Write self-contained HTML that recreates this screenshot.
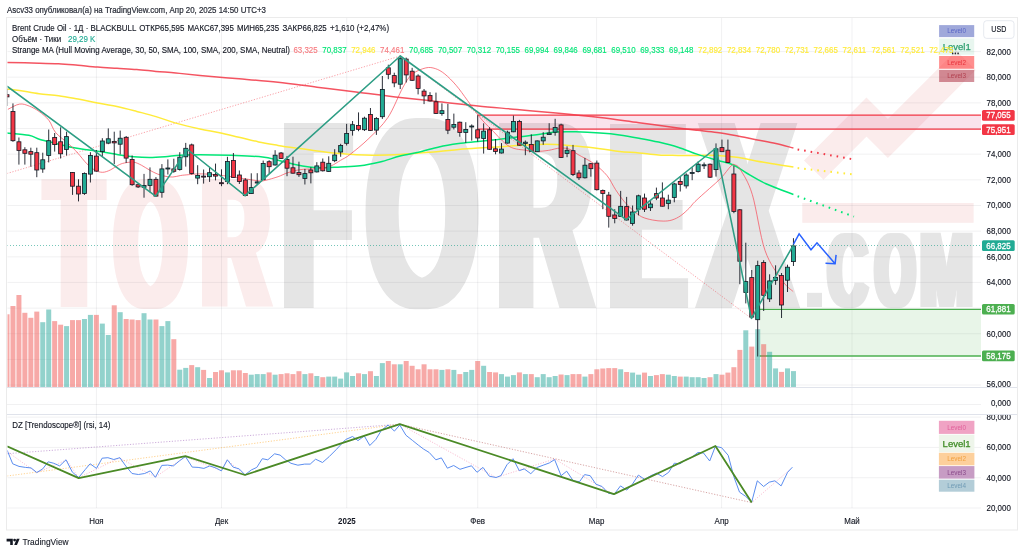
<!DOCTYPE html><html><head><meta charset="utf-8"><style>html,body{margin:0;padding:0;background:#fff;overflow:hidden}svg{display:block}svg{font-family:"Liberation Sans","DejaVu Sans",sans-serif}</style></head><body>
<svg width="1024" height="554" viewBox="0 0 1024 554">
<defs><clipPath id="cm"><rect x="7.5" y="18" width="973.5" height="369"/></clipPath><clipPath id="cd"><rect x="7.5" y="415" width="973.5" height="95"/></clipPath><clipPath id="ca1"><rect x="981" y="18" width="36" height="370"/></clipPath><clipPath id="ca3"><rect x="981" y="415" width="36" height="100"/></clipPath></defs>
<rect width="1024" height="554" fill="#fff"/>
<text transform="translate(7.00,12.50) scale(0.9,1)" font-size="8.8" fill="#2a2e39" stroke="#2a2e39" stroke-width="0.22">Ascv33 опубликовал(а) на TradingView.com, Апр 20, 2025 14:50 UTC+3</text>
<g clip-path="url(#cm)">
<polyline points="813.75,170.15 866.5,117 887.9,138.4 966,60.3" fill="none" stroke="#fbecec" stroke-width="27.6" stroke-linejoin="miter" stroke-miterlimit="10"/>
<rect x="802.3" y="203" width="171.3" height="19.8" fill="#fbecec"/>
<g filter="url(#dl0)"><text transform="translate(47.55,307.00) scale(0.8673,1.8605)" font-family="Liberation Sans" font-weight="bold" font-size="100" fill="#fbecec">T</text></g>
<g filter="url(#dl1)"><text transform="translate(115.28,307.35) scale(0.9078,1.8388)" font-family="Liberation Sans" font-weight="bold" font-size="100" fill="#fbecec">O</text></g>
<g filter="url(#dl2)"><text transform="translate(201.76,307.00) scale(0.9321,1.8605)" font-family="Liberation Sans" font-weight="bold" font-size="100" fill="#fbecec">R</text></g>
<g filter="url(#dl3)"><text transform="translate(283.72,308.00) scale(1.0870,2.6890)" font-family="Liberation Sans" font-weight="bold" font-size="100" fill="#e5e5e5">F</text></g>
<g filter="url(#dl4)"><text transform="translate(365.53,306.57) scale(1.4553,2.7016)" font-family="Liberation Sans" font-weight="bold" font-size="100" fill="#e5e5e5">O</text></g>
<g filter="url(#dl5)"><text transform="translate(498.43,308.00) scale(1.2796,2.6890)" font-family="Liberation Sans" font-weight="bold" font-size="100" fill="#e5e5e5">R</text></g>
<g filter="url(#dl6)"><text transform="translate(610.58,308.00) scale(1.1071,2.6744)" font-family="Liberation Sans" font-weight="bold" font-size="100" fill="#e5e5e5">E</text></g>
<g filter="url(#dl7)"><text transform="translate(701.76,308.00) scale(1.3735,2.6890)" font-family="Liberation Sans" font-weight="bold" font-size="100" fill="#e5e5e5">X</text></g>
<text transform="translate(799.81,307.00) scale(1.0643,0.9396)" font-family="Liberation Sans" font-weight="bold" font-size="100" fill="#e5e5e5">.</text>
<g filter="url(#dl8)"><text transform="translate(828.30,307.05) scale(0.5360,1.0608)" font-family="Liberation Sans" font-weight="bold" font-size="100" fill="#e5e5e5">C</text></g>
<g filter="url(#dl9)"><text transform="translate(875.43,307.05) scale(0.5043,1.0608)" font-family="Liberation Sans" font-weight="bold" font-size="100" fill="#e5e5e5">O</text></g>
<g filter="url(#dl10)"><text transform="translate(920.28,307.00) scale(0.6304,1.0756)" font-family="Liberation Sans" font-weight="bold" font-size="100" fill="#e5e5e5">M</text></g>
<defs><filter id="dl0" x="-40%" y="-20%" width="180%" height="140%" color-interpolation-filters="sRGB"><feMorphology operator="dilate" radius="6.50 0.00"/></filter><filter id="dl1" x="-40%" y="-20%" width="180%" height="140%" color-interpolation-filters="sRGB"><feMorphology operator="dilate" radius="6.00 0.00"/></filter><filter id="dl2" x="-40%" y="-20%" width="180%" height="140%" color-interpolation-filters="sRGB"><feMorphology operator="dilate" radius="6.00 0.00"/></filter><filter id="dl3" x="-40%" y="-20%" width="180%" height="140%" color-interpolation-filters="sRGB"><feMorphology operator="dilate" radius="7.00 0.00"/></filter><filter id="dl4" x="-40%" y="-20%" width="180%" height="140%" color-interpolation-filters="sRGB"><feMorphology operator="dilate" radius="5.50 0.00"/></filter><filter id="dl5" x="-40%" y="-20%" width="180%" height="140%" color-interpolation-filters="sRGB"><feMorphology operator="dilate" radius="8.00 0.00"/></filter><filter id="dl6" x="-40%" y="-20%" width="180%" height="140%" color-interpolation-filters="sRGB"><feMorphology operator="dilate" radius="8.00 0.00"/></filter><filter id="dl7" x="-40%" y="-20%" width="180%" height="140%" color-interpolation-filters="sRGB"><feMorphology operator="dilate" radius="8.00 0.00"/></filter><filter id="dl8" x="-40%" y="-20%" width="180%" height="140%" color-interpolation-filters="sRGB"><feMorphology operator="dilate" radius="3.50 0.00"/></filter><filter id="dl9" x="-40%" y="-20%" width="180%" height="140%" color-interpolation-filters="sRGB"><feMorphology operator="dilate" radius="3.50 0.00"/></filter><filter id="dl10" x="-40%" y="-20%" width="180%" height="140%" color-interpolation-filters="sRGB"><feMorphology operator="dilate" radius="3.50 0.00"/></filter></defs>
<line x1="7" x2="981" y1="385.0" y2="385.0" stroke="rgba(42,46,57,0.065)" stroke-width="1"/>
<line x1="7" x2="981" y1="359.4" y2="359.4" stroke="rgba(42,46,57,0.065)" stroke-width="1"/>
<line x1="7" x2="981" y1="333.7" y2="333.7" stroke="rgba(42,46,57,0.065)" stroke-width="1"/>
<line x1="7" x2="981" y1="308.1" y2="308.1" stroke="rgba(42,46,57,0.065)" stroke-width="1"/>
<line x1="7" x2="981" y1="282.4" y2="282.4" stroke="rgba(42,46,57,0.065)" stroke-width="1"/>
<line x1="7" x2="981" y1="256.8" y2="256.8" stroke="rgba(42,46,57,0.065)" stroke-width="1"/>
<line x1="7" x2="981" y1="231.1" y2="231.1" stroke="rgba(42,46,57,0.065)" stroke-width="1"/>
<line x1="7" x2="981" y1="205.5" y2="205.5" stroke="rgba(42,46,57,0.065)" stroke-width="1"/>
<line x1="7" x2="981" y1="179.8" y2="179.8" stroke="rgba(42,46,57,0.065)" stroke-width="1"/>
<line x1="7" x2="981" y1="154.2" y2="154.2" stroke="rgba(42,46,57,0.065)" stroke-width="1"/>
<line x1="7" x2="981" y1="128.5" y2="128.5" stroke="rgba(42,46,57,0.065)" stroke-width="1"/>
<line x1="7" x2="981" y1="102.9" y2="102.9" stroke="rgba(42,46,57,0.065)" stroke-width="1"/>
<line x1="7" x2="981" y1="77.2" y2="77.2" stroke="rgba(42,46,57,0.065)" stroke-width="1"/>
<line x1="7" x2="981" y1="51.6" y2="51.6" stroke="rgba(42,46,57,0.065)" stroke-width="1"/>
<line x1="96.4" x2="96.4" y1="18" y2="387" stroke="rgba(42,46,57,0.065)" stroke-width="1"/>
<line x1="221.5" x2="221.5" y1="18" y2="387" stroke="rgba(42,46,57,0.065)" stroke-width="1"/>
<line x1="346.7" x2="346.7" y1="18" y2="387" stroke="rgba(42,46,57,0.065)" stroke-width="1"/>
<line x1="477.7" x2="477.7" y1="18" y2="387" stroke="rgba(42,46,57,0.065)" stroke-width="1"/>
<line x1="596.6" x2="596.6" y1="18" y2="387" stroke="rgba(42,46,57,0.065)" stroke-width="1"/>
<line x1="721.6" x2="721.6" y1="18" y2="387" stroke="rgba(42,46,57,0.065)" stroke-width="1"/>
<line x1="852" x2="852" y1="18" y2="387" stroke="rgba(42,46,57,0.065)" stroke-width="1"/>
<rect x="477.7" y="115.2" width="504" height="13.9" fill="rgb(214,40,110)" fill-opacity="0.13"/>
<line x1="477.7" x2="981" y1="115.2" y2="115.2" stroke="#f23645" stroke-width="1.3"/>
<line x1="477.7" x2="981" y1="129.1" y2="129.1" stroke="#f23645" stroke-width="1.3"/>
<rect x="759.6" y="309.3" width="222" height="46.7" fill="rgb(76,175,80)" fill-opacity="0.13"/>
<line x1="759.6" x2="981" y1="309.3" y2="309.3" stroke="#4caf50" stroke-width="1.3"/>
<line x1="759.6" x2="981" y1="356" y2="356" stroke="#4caf50" stroke-width="1.3"/>
<rect x="4.50" y="314.3" width="5" height="72.7" fill="rgba(239,83,80,0.5)"/>
<rect x="10.46" y="306.0" width="5" height="81.0" fill="rgba(239,83,80,0.5)"/>
<rect x="16.42" y="295.0" width="5" height="92.0" fill="rgba(239,83,80,0.5)"/>
<rect x="22.37" y="312.8" width="5" height="74.2" fill="rgba(239,83,80,0.5)"/>
<rect x="28.33" y="317.8" width="5" height="69.2" fill="rgba(239,83,80,0.5)"/>
<rect x="34.29" y="311.6" width="5" height="75.4" fill="rgba(239,83,80,0.5)"/>
<rect x="40.25" y="322.2" width="5" height="64.8" fill="rgba(38,166,154,0.5)"/>
<rect x="46.21" y="309.5" width="5" height="77.5" fill="rgba(38,166,154,0.5)"/>
<rect x="52.16" y="321.1" width="5" height="65.9" fill="rgba(239,83,80,0.5)"/>
<rect x="58.12" y="324.7" width="5" height="62.3" fill="rgba(239,83,80,0.5)"/>
<rect x="64.08" y="326.1" width="5" height="60.9" fill="rgba(38,166,154,0.5)"/>
<rect x="70.04" y="320.1" width="5" height="66.9" fill="rgba(239,83,80,0.5)"/>
<rect x="76.00" y="320.1" width="5" height="66.9" fill="rgba(239,83,80,0.5)"/>
<rect x="81.95" y="319.0" width="5" height="68.0" fill="rgba(38,166,154,0.5)"/>
<rect x="87.91" y="314.9" width="5" height="72.1" fill="rgba(38,166,154,0.5)"/>
<rect x="93.87" y="314.9" width="5" height="72.1" fill="rgba(239,83,80,0.5)"/>
<rect x="99.83" y="323.6" width="5" height="63.4" fill="rgba(38,166,154,0.5)"/>
<rect x="105.79" y="335.0" width="5" height="52.0" fill="rgba(38,166,154,0.5)"/>
<rect x="111.74" y="305.3" width="5" height="81.7" fill="rgba(239,83,80,0.5)"/>
<rect x="117.70" y="312.2" width="5" height="74.8" fill="rgba(38,166,154,0.5)"/>
<rect x="123.66" y="319.0" width="5" height="68.0" fill="rgba(239,83,80,0.5)"/>
<rect x="129.62" y="319.5" width="5" height="67.5" fill="rgba(239,83,80,0.5)"/>
<rect x="135.58" y="320.1" width="5" height="66.9" fill="rgba(239,83,80,0.5)"/>
<rect x="141.53" y="313.2" width="5" height="73.8" fill="rgba(38,166,154,0.5)"/>
<rect x="147.49" y="319.5" width="5" height="67.5" fill="rgba(38,166,154,0.5)"/>
<rect x="153.45" y="319.5" width="5" height="67.5" fill="rgba(239,83,80,0.5)"/>
<rect x="159.41" y="326.1" width="5" height="60.9" fill="rgba(38,166,154,0.5)"/>
<rect x="165.37" y="321.1" width="5" height="65.9" fill="rgba(38,166,154,0.5)"/>
<rect x="171.32" y="339.2" width="5" height="47.8" fill="rgba(239,83,80,0.5)"/>
<rect x="177.28" y="369.7" width="5" height="17.3" fill="rgba(38,166,154,0.5)"/>
<rect x="183.24" y="367.9" width="5" height="19.1" fill="rgba(38,166,154,0.5)"/>
<rect x="189.20" y="365.1" width="5" height="21.9" fill="rgba(239,83,80,0.5)"/>
<rect x="195.16" y="367.2" width="5" height="19.8" fill="rgba(38,166,154,0.5)"/>
<rect x="201.11" y="369.9" width="5" height="17.1" fill="rgba(239,83,80,0.5)"/>
<rect x="207.07" y="378.0" width="5" height="9.0" fill="rgba(38,166,154,0.5)"/>
<rect x="213.03" y="372.0" width="5" height="15.0" fill="rgba(239,83,80,0.5)"/>
<rect x="218.99" y="370.3" width="5" height="16.7" fill="rgba(239,83,80,0.5)"/>
<rect x="224.95" y="372.4" width="5" height="14.6" fill="rgba(38,166,154,0.5)"/>
<rect x="230.90" y="370.3" width="5" height="16.7" fill="rgba(239,83,80,0.5)"/>
<rect x="236.86" y="370.3" width="5" height="16.7" fill="rgba(239,83,80,0.5)"/>
<rect x="242.82" y="373.0" width="5" height="14.0" fill="rgba(239,83,80,0.5)"/>
<rect x="248.78" y="374.7" width="5" height="12.3" fill="rgba(38,166,154,0.5)"/>
<rect x="254.74" y="374.1" width="5" height="12.9" fill="rgba(38,166,154,0.5)"/>
<rect x="260.69" y="374.1" width="5" height="12.9" fill="rgba(38,166,154,0.5)"/>
<rect x="266.65" y="372.4" width="5" height="14.6" fill="rgba(239,83,80,0.5)"/>
<rect x="272.61" y="374.7" width="5" height="12.3" fill="rgba(38,166,154,0.5)"/>
<rect x="278.57" y="374.1" width="5" height="12.9" fill="rgba(239,83,80,0.5)"/>
<rect x="284.53" y="373.3" width="5" height="13.7" fill="rgba(239,83,80,0.5)"/>
<rect x="290.48" y="374.1" width="5" height="12.9" fill="rgba(239,83,80,0.5)"/>
<rect x="296.44" y="371.2" width="5" height="15.8" fill="rgba(239,83,80,0.5)"/>
<rect x="302.40" y="374.1" width="5" height="12.9" fill="rgba(38,166,154,0.5)"/>
<rect x="308.36" y="373.3" width="5" height="13.7" fill="rgba(239,83,80,0.5)"/>
<rect x="314.32" y="376.0" width="5" height="11.0" fill="rgba(38,166,154,0.5)"/>
<rect x="320.27" y="377.2" width="5" height="9.8" fill="rgba(239,83,80,0.5)"/>
<rect x="326.23" y="376.6" width="5" height="10.4" fill="rgba(38,166,154,0.5)"/>
<rect x="332.19" y="376.6" width="5" height="10.4" fill="rgba(38,166,154,0.5)"/>
<rect x="338.15" y="378.6" width="5" height="8.4" fill="rgba(38,166,154,0.5)"/>
<rect x="344.11" y="372.4" width="5" height="14.6" fill="rgba(38,166,154,0.5)"/>
<rect x="350.06" y="376.0" width="5" height="11.0" fill="rgba(38,166,154,0.5)"/>
<rect x="356.02" y="373.3" width="5" height="13.7" fill="rgba(239,83,80,0.5)"/>
<rect x="361.98" y="374.1" width="5" height="12.9" fill="rgba(38,166,154,0.5)"/>
<rect x="367.94" y="371.2" width="5" height="15.8" fill="rgba(239,83,80,0.5)"/>
<rect x="373.90" y="376.0" width="5" height="11.0" fill="rgba(38,166,154,0.5)"/>
<rect x="379.85" y="363.1" width="5" height="23.9" fill="rgba(38,166,154,0.5)"/>
<rect x="385.81" y="361.0" width="5" height="26.0" fill="rgba(239,83,80,0.5)"/>
<rect x="391.77" y="364.3" width="5" height="22.7" fill="rgba(239,83,80,0.5)"/>
<rect x="397.73" y="364.3" width="5" height="22.7" fill="rgba(38,166,154,0.5)"/>
<rect x="403.69" y="361.0" width="5" height="26.0" fill="rgba(239,83,80,0.5)"/>
<rect x="409.64" y="365.8" width="5" height="21.2" fill="rgba(239,83,80,0.5)"/>
<rect x="415.60" y="369.3" width="5" height="17.7" fill="rgba(239,83,80,0.5)"/>
<rect x="421.56" y="364.3" width="5" height="22.7" fill="rgba(239,83,80,0.5)"/>
<rect x="427.52" y="369.3" width="5" height="17.7" fill="rgba(239,83,80,0.5)"/>
<rect x="433.48" y="369.3" width="5" height="17.7" fill="rgba(239,83,80,0.5)"/>
<rect x="439.43" y="369.9" width="5" height="17.1" fill="rgba(38,166,154,0.5)"/>
<rect x="445.39" y="369.3" width="5" height="17.7" fill="rgba(239,83,80,0.5)"/>
<rect x="451.35" y="369.9" width="5" height="17.1" fill="rgba(38,166,154,0.5)"/>
<rect x="457.31" y="374.1" width="5" height="12.9" fill="rgba(239,83,80,0.5)"/>
<rect x="463.27" y="372.0" width="5" height="15.0" fill="rgba(38,166,154,0.5)"/>
<rect x="469.22" y="369.9" width="5" height="17.1" fill="rgba(38,166,154,0.5)"/>
<rect x="475.18" y="361.0" width="5" height="26.0" fill="rgba(239,83,80,0.5)"/>
<rect x="481.14" y="365.8" width="5" height="21.2" fill="rgba(38,166,154,0.5)"/>
<rect x="487.10" y="372.0" width="5" height="15.0" fill="rgba(239,83,80,0.5)"/>
<rect x="493.06" y="372.4" width="5" height="14.6" fill="rgba(239,83,80,0.5)"/>
<rect x="499.01" y="374.1" width="5" height="12.9" fill="rgba(38,166,154,0.5)"/>
<rect x="504.97" y="376.6" width="5" height="10.4" fill="rgba(38,166,154,0.5)"/>
<rect x="510.93" y="375.1" width="5" height="11.9" fill="rgba(38,166,154,0.5)"/>
<rect x="516.89" y="372.4" width="5" height="14.6" fill="rgba(239,83,80,0.5)"/>
<rect x="522.85" y="374.1" width="5" height="12.9" fill="rgba(38,166,154,0.5)"/>
<rect x="528.80" y="374.1" width="5" height="12.9" fill="rgba(239,83,80,0.5)"/>
<rect x="534.76" y="377.2" width="5" height="9.8" fill="rgba(38,166,154,0.5)"/>
<rect x="540.72" y="374.1" width="5" height="12.9" fill="rgba(38,166,154,0.5)"/>
<rect x="546.68" y="377.2" width="5" height="9.8" fill="rgba(38,166,154,0.5)"/>
<rect x="552.64" y="376.0" width="5" height="11.0" fill="rgba(38,166,154,0.5)"/>
<rect x="558.59" y="374.5" width="5" height="12.5" fill="rgba(239,83,80,0.5)"/>
<rect x="564.55" y="375.1" width="5" height="11.9" fill="rgba(38,166,154,0.5)"/>
<rect x="570.51" y="374.1" width="5" height="12.9" fill="rgba(239,83,80,0.5)"/>
<rect x="576.47" y="374.1" width="5" height="12.9" fill="rgba(239,83,80,0.5)"/>
<rect x="582.43" y="376.6" width="5" height="10.4" fill="rgba(38,166,154,0.5)"/>
<rect x="588.38" y="374.1" width="5" height="12.9" fill="rgba(239,83,80,0.5)"/>
<rect x="594.34" y="369.3" width="5" height="17.7" fill="rgba(239,83,80,0.5)"/>
<rect x="600.30" y="368.5" width="5" height="18.5" fill="rgba(239,83,80,0.5)"/>
<rect x="606.26" y="368.1" width="5" height="18.9" fill="rgba(239,83,80,0.5)"/>
<rect x="612.22" y="368.1" width="5" height="18.9" fill="rgba(239,83,80,0.5)"/>
<rect x="618.17" y="369.3" width="5" height="17.7" fill="rgba(38,166,154,0.5)"/>
<rect x="624.13" y="372.0" width="5" height="15.0" fill="rgba(239,83,80,0.5)"/>
<rect x="630.09" y="372.6" width="5" height="14.4" fill="rgba(38,166,154,0.5)"/>
<rect x="636.05" y="374.7" width="5" height="12.3" fill="rgba(38,166,154,0.5)"/>
<rect x="642.01" y="372.6" width="5" height="14.4" fill="rgba(239,83,80,0.5)"/>
<rect x="647.96" y="376.0" width="5" height="11.0" fill="rgba(38,166,154,0.5)"/>
<rect x="653.92" y="375.1" width="5" height="11.9" fill="rgba(239,83,80,0.5)"/>
<rect x="659.88" y="374.1" width="5" height="12.9" fill="rgba(239,83,80,0.5)"/>
<rect x="665.84" y="374.7" width="5" height="12.3" fill="rgba(38,166,154,0.5)"/>
<rect x="671.80" y="376.0" width="5" height="11.0" fill="rgba(38,166,154,0.5)"/>
<rect x="677.75" y="376.6" width="5" height="10.4" fill="rgba(239,83,80,0.5)"/>
<rect x="683.71" y="376.6" width="5" height="10.4" fill="rgba(38,166,154,0.5)"/>
<rect x="689.67" y="377.2" width="5" height="9.8" fill="rgba(38,166,154,0.5)"/>
<rect x="695.63" y="377.2" width="5" height="9.8" fill="rgba(38,166,154,0.5)"/>
<rect x="701.59" y="378.0" width="5" height="9.0" fill="rgba(38,166,154,0.5)"/>
<rect x="707.54" y="377.2" width="5" height="9.8" fill="rgba(239,83,80,0.5)"/>
<rect x="713.50" y="374.1" width="5" height="12.9" fill="rgba(38,166,154,0.5)"/>
<rect x="719.46" y="374.7" width="5" height="12.3" fill="rgba(239,83,80,0.5)"/>
<rect x="725.42" y="372.6" width="5" height="14.4" fill="rgba(239,83,80,0.5)"/>
<rect x="731.38" y="367.2" width="5" height="19.8" fill="rgba(239,83,80,0.5)"/>
<rect x="737.33" y="349.9" width="5" height="37.1" fill="rgba(239,83,80,0.5)"/>
<rect x="743.29" y="330.3" width="5" height="56.7" fill="rgba(38,166,154,0.5)"/>
<rect x="749.25" y="346.6" width="5" height="40.4" fill="rgba(239,83,80,0.5)"/>
<rect x="755.21" y="329.2" width="5" height="57.8" fill="rgba(38,166,154,0.5)"/>
<rect x="761.17" y="344.2" width="5" height="42.8" fill="rgba(239,83,80,0.5)"/>
<rect x="767.12" y="351.8" width="5" height="35.2" fill="rgba(38,166,154,0.5)"/>
<rect x="773.08" y="368.4" width="5" height="18.6" fill="rgba(38,166,154,0.5)"/>
<rect x="779.04" y="371.9" width="5" height="15.1" fill="rgba(239,83,80,0.5)"/>
<rect x="785.00" y="368.4" width="5" height="18.6" fill="rgba(38,166,154,0.5)"/>
<rect x="790.96" y="371.1" width="5" height="15.9" fill="rgba(38,166,154,0.5)"/>
<line x1="7" x2="981" y1="245.5" y2="245.5" stroke="#089981" stroke-width="1" stroke-dasharray="1,2" opacity="0.55"/>
<polyline points="7,173.5 400.3,56 751.4,318.4" fill="none" stroke="#f23645" stroke-opacity="0.6" stroke-width="0.8" stroke-dasharray="1.2,1.6"/>
<path d="M7.0,62.4 C12.3,62.5 30.4,63.0 39.0,63.2 C47.6,63.4 52.1,63.5 58.6,63.8 C65.1,64.1 71.5,64.7 78.0,65.2 C84.5,65.8 91.2,66.6 97.7,67.1 C104.2,67.6 110.5,67.9 117.0,68.3 C123.5,68.7 130.2,69.0 136.7,69.5 C143.2,70.0 149.5,70.8 156.0,71.4 C162.5,72.0 168.5,72.3 175.8,73.0 C183.1,73.7 189.5,74.4 200.0,75.4 C210.5,76.4 226.0,77.7 239.0,78.8 C252.0,79.9 265.0,80.9 278.0,82.3 C291.0,83.7 304.0,85.6 317.0,87.2 C330.0,88.8 342.2,90.2 356.0,91.9 C369.8,93.6 386.2,95.9 400.0,97.5 C413.8,99.1 426.0,100.3 439.0,101.7 C452.0,103.1 465.0,104.7 478.0,106.0 C491.0,107.3 504.0,108.3 517.0,109.5 C530.0,110.7 542.2,111.7 556.0,113.0 C569.8,114.3 586.2,115.9 600.0,117.5 C613.8,119.1 626.0,121.0 639.0,122.7 C652.0,124.5 668.2,126.7 678.0,128.0 C687.8,129.3 691.2,129.6 697.7,130.3 C704.2,131.0 710.5,131.5 717.0,132.4 C723.5,133.3 730.2,134.5 736.7,135.7 C743.2,136.9 749.5,138.4 756.0,139.7 C762.5,141.0 769.6,142.2 775.8,143.6 C782.0,145.0 790.5,147.3 793.4,148.0" fill="none" stroke="#f23645" stroke-opacity="0.85" stroke-width="1.5"/>
<path d="M7.0,88.9 C9.1,89.2 14.2,89.7 19.5,90.5 C24.8,91.3 32.5,92.9 39.0,93.8 C45.5,94.7 52.1,94.8 58.6,95.7 C65.1,96.6 71.5,97.9 78.0,99.1 C84.5,100.3 91.2,101.8 97.7,103.0 C104.2,104.2 110.5,105.1 117.0,106.5 C123.5,107.9 130.2,109.7 136.7,111.4 C143.2,113.1 149.5,114.6 156.0,116.6 C162.5,118.5 168.5,121.0 175.8,123.1 C183.1,125.1 192.7,127.3 200.0,128.9 C207.3,130.5 213.0,131.3 219.5,132.7 C226.0,134.1 232.5,135.7 239.0,137.2 C245.5,138.7 252.1,140.5 258.6,141.9 C265.1,143.3 271.5,144.3 278.0,145.4 C284.5,146.5 291.2,147.4 297.7,148.3 C304.2,149.2 310.7,150.1 317.2,150.9 C323.7,151.7 330.2,152.5 336.7,153.2 C343.2,153.8 349.5,154.5 356.0,154.8 C362.5,155.1 368.5,155.3 375.8,155.2 C383.1,155.1 392.7,154.8 400.0,154.4 C407.3,154.0 413.0,153.4 419.5,152.9 C426.0,152.4 432.5,152.0 439.0,151.4 C445.5,150.8 452.1,150.0 458.6,149.4 C465.1,148.8 471.5,148.4 478.0,148.0 C484.5,147.6 491.2,147.3 497.7,146.9 C504.2,146.5 510.7,145.9 517.2,145.5 C523.7,145.1 530.2,144.7 536.7,144.5 C543.2,144.3 549.5,144.2 556.0,144.5 C562.5,144.8 568.5,145.4 575.8,146.1 C583.1,146.8 592.7,147.8 600.0,148.7 C607.3,149.6 613.0,150.8 619.5,151.5 C626.0,152.2 632.5,152.4 639.0,153.0 C645.5,153.6 652.1,154.6 658.6,155.0 C665.1,155.4 671.5,155.3 678.0,155.4 C684.5,155.5 691.2,155.4 697.7,155.4 C704.2,155.4 710.7,155.2 717.2,155.5 C723.7,155.8 730.2,156.4 736.7,157.3 C743.2,158.2 749.5,159.8 756.0,160.9 C762.5,162.1 769.6,163.2 775.8,164.2 C782.0,165.2 790.5,166.6 793.4,167.1" fill="none" stroke="#ffeb3b" stroke-width="1.5"/>
<path d="M7.0,133.0 C10.7,133.4 23.4,134.2 28.9,135.3 C34.4,136.4 35.5,138.2 40.0,139.5 C44.5,140.8 50.4,142.1 55.6,143.4 C60.8,144.7 66.0,146.2 71.2,147.3 C76.5,148.4 81.7,148.9 86.9,149.7 C92.1,150.5 97.3,151.2 102.5,152.0 C107.7,152.8 112.9,153.9 118.1,154.7 C123.3,155.5 128.5,156.2 133.8,156.7 C139.0,157.2 144.2,157.5 149.4,157.5 C154.6,157.5 159.8,157.1 165.0,156.7 C170.2,156.3 174.8,155.5 180.6,155.2 C186.4,154.9 191.6,154.8 200.0,154.8 C208.4,154.8 220.8,155.0 231.2,155.3 C241.7,155.7 254.7,156.1 262.5,156.9 C270.3,157.7 272.9,159.1 278.1,160.3 C283.3,161.5 288.5,163.1 293.8,164.2 C299.0,165.3 304.2,166.3 309.4,166.9 C314.6,167.5 319.8,167.8 325.0,167.8 C330.2,167.8 334.8,167.2 340.6,166.9 C346.4,166.6 353.4,166.6 360.0,165.8 C366.6,165.0 373.3,163.6 380.0,162.0 C386.7,160.4 393.4,157.8 400.0,156.1 C406.6,154.4 413.0,153.5 419.5,152.0 C426.0,150.5 432.5,148.3 439.0,146.9 C445.5,145.5 452.1,144.5 458.6,143.6 C465.1,142.7 471.5,142.3 478.0,141.6 C484.5,140.9 491.2,140.3 497.7,139.6 C504.2,138.8 510.7,137.9 517.2,137.1 C523.7,136.3 530.2,135.7 536.7,134.8 C543.2,134.0 549.5,132.5 556.0,132.0 C562.5,131.5 568.5,131.6 575.8,131.8 C583.1,132.0 592.7,132.5 600.0,133.0 C607.3,133.5 613.0,134.0 619.5,134.9 C626.0,135.8 632.5,137.0 639.0,138.2 C645.5,139.4 652.1,140.6 658.6,142.1 C665.1,143.6 671.5,145.1 678.0,147.2 C684.5,149.2 691.2,152.2 697.7,154.4 C704.2,156.6 711.4,158.6 717.2,160.3 C723.1,162.0 727.9,162.7 732.8,164.8 C737.7,166.9 741.0,169.8 746.5,173.0 C752.0,176.2 758.2,180.1 766.0,183.7 C773.8,187.3 788.8,192.7 793.4,194.5" fill="none" stroke="#00e676" stroke-width="1.5"/>
<path d="M7.8,109.4 C9.8,108.5 15.9,104.6 19.5,104.1 C23.1,103.5 26.1,104.9 29.3,106.1 C32.5,107.3 35.8,109.1 39.0,111.4 C42.2,113.8 46.0,116.7 48.8,120.2 C51.6,123.7 52.4,128.6 55.6,132.5 C58.8,136.4 64.4,140.0 68.1,143.4 C71.8,146.8 74.4,149.4 77.5,152.8 C80.6,156.2 84.0,160.9 86.9,163.8 C89.8,166.6 92.1,168.6 94.7,170.0 C97.3,171.4 99.9,172.3 102.5,172.3 C105.1,172.3 107.7,171.2 110.3,170.0 C112.9,168.8 115.8,166.5 118.1,165.3 C120.4,164.1 121.8,163.5 124.4,163.0 C127.0,162.5 130.9,161.8 133.8,162.2 C136.6,162.6 139.0,164.0 141.6,165.3 C144.2,166.6 146.8,168.6 149.4,170.0 C152.0,171.4 154.6,172.9 157.2,173.9 C159.8,174.9 162.4,175.7 165.0,176.2 C167.6,176.8 170.2,177.1 172.8,177.0 C175.4,176.9 178.0,175.9 180.6,175.5 C183.2,175.1 185.2,175.0 188.4,174.7 C191.6,174.4 195.5,173.9 200.0,173.9 C204.5,173.9 210.4,174.2 215.6,174.7 C220.8,175.2 226.0,176.0 231.2,176.7 C236.5,177.4 242.2,178.4 246.9,179.1 C251.6,179.8 256.3,180.7 259.4,180.9 C262.5,181.1 262.5,181.0 265.6,180.3 C268.7,179.6 274.5,177.9 278.1,176.7 C281.8,175.4 283.9,174.0 287.5,172.8 C291.1,171.6 295.8,170.3 300.0,169.7 C304.2,169.0 308.9,169.2 312.5,168.9 C316.1,168.6 318.8,168.6 321.9,168.1 C325.0,167.6 328.1,167.1 331.2,165.8 C334.4,164.5 337.5,162.2 340.6,160.3 C343.7,158.4 345.3,158.2 350.0,154.5 C354.7,150.8 362.6,144.6 368.9,138.4 C375.2,132.2 382.2,126.0 387.9,117.5 C393.6,109.0 398.9,94.5 403.0,87.2 C407.1,80.0 408.7,77.2 412.5,74.0 C416.3,70.8 422.0,68.8 425.8,67.9 C429.6,67.0 432.1,67.6 435.3,68.6 C438.5,69.6 441.3,71.2 444.8,74.0 C448.3,76.8 452.3,80.9 456.1,85.3 C459.9,89.7 463.5,95.1 467.5,100.5 C471.5,105.9 475.9,112.6 480.0,117.5 C484.1,122.4 486.9,125.1 491.8,129.9 C496.7,134.7 503.5,143.1 509.4,146.5 C515.3,149.9 522.5,149.6 527.0,150.4 C531.5,151.2 533.1,151.4 536.7,151.4 C540.3,151.4 544.5,151.0 548.4,150.4 C552.3,149.8 556.6,148.2 560.2,148.0 C563.8,147.8 567.0,148.3 570.0,149.4 C573.0,150.5 574.0,152.1 578.0,154.5 C582.0,156.9 589.2,160.2 594.0,163.7 C598.8,167.2 603.4,171.3 607.0,175.6 C610.6,179.9 612.7,185.4 615.6,189.7 C618.5,194.0 621.4,198.2 624.3,201.6 C627.2,205.0 630.1,207.8 633.0,210.3 C635.9,212.8 638.5,215.2 641.7,216.8 C645.0,218.4 648.9,219.3 652.5,220.0 C656.1,220.7 660.0,221.1 663.3,221.1 C666.5,221.1 669.1,220.9 672.0,220.0 C674.9,219.1 677.8,217.7 680.7,215.7 C683.6,213.7 686.9,210.4 689.3,208.1 C691.7,205.8 691.6,204.8 695.0,201.6 C698.4,198.3 705.0,192.5 709.4,188.6 C713.8,184.7 717.5,181.7 721.1,177.9 C724.7,174.2 728.6,168.3 730.9,166.1 C733.2,163.9 733.2,164.2 734.8,164.8 C736.4,165.5 737.7,165.1 740.6,170.0 C743.5,174.9 748.2,181.1 752.3,194.5 C756.4,207.9 760.0,236.0 765.0,250.4 C770.0,264.8 777.7,273.8 782.4,280.7 C787.1,287.6 791.4,289.8 793.2,291.6" fill="none" stroke="#f7525f" stroke-opacity="0.75" stroke-width="1"/>
<polyline points="797.6,149.4 854.0,159.4" fill="none" stroke="#f23645" stroke-width="2" stroke-dasharray="1.6,5"/>
<polyline points="797.6,168.0 854.0,174.5" fill="none" stroke="#ffeb3b" stroke-width="2" stroke-dasharray="1.6,5"/>
<polyline points="797.6,196.2 854.0,216.6" fill="none" stroke="#00e676" stroke-width="2" stroke-dasharray="1.6,5"/>
<line x1="7.00" x2="7.00" y1="88.7" y2="106.0" stroke="#131722" stroke-width="0.9"/>
<rect x="5.00" y="94.7" width="4" height="2.2" fill="#f23645" stroke="#131722" stroke-width="0.8"/>
<line x1="12.96" x2="12.96" y1="103.4" y2="141.8" stroke="#131722" stroke-width="0.9"/>
<rect x="10.96" y="111.5" width="4" height="29.2" fill="#f23645" stroke="#131722" stroke-width="0.8"/>
<line x1="18.92" x2="18.92" y1="137.5" y2="164.6" stroke="#131722" stroke-width="0.9"/>
<rect x="16.92" y="141.8" width="4" height="8.7" fill="#f23645" stroke="#131722" stroke-width="0.8"/>
<line x1="24.87" x2="24.87" y1="147.2" y2="164.6" stroke="#131722" stroke-width="0.9"/>
<rect x="22.87" y="149.8" width="4" height="3.5" fill="#f23645" stroke="#131722" stroke-width="0.8"/>
<line x1="30.83" x2="30.83" y1="147.7" y2="166.8" stroke="#131722" stroke-width="0.9"/>
<rect x="28.83" y="151.6" width="4" height="2.6" fill="#f23645" stroke="#131722" stroke-width="0.8"/>
<line x1="36.79" x2="36.79" y1="147.7" y2="177.2" stroke="#131722" stroke-width="0.9"/>
<rect x="34.79" y="152.7" width="4" height="17.3" fill="#f23645" stroke="#131722" stroke-width="0.8"/>
<line x1="42.75" x2="42.75" y1="152.7" y2="172.8" stroke="#131722" stroke-width="0.9"/>
<rect x="40.75" y="159.8" width="4" height="9.2" fill="#22ab94" stroke="#131722" stroke-width="0.8"/>
<line x1="48.71" x2="48.71" y1="129.5" y2="162.4" stroke="#131722" stroke-width="0.9"/>
<rect x="46.71" y="140.7" width="4" height="14.8" fill="#22ab94" stroke="#131722" stroke-width="0.8"/>
<line x1="54.66" x2="54.66" y1="133.0" y2="151.6" stroke="#131722" stroke-width="0.9"/>
<rect x="52.66" y="137.5" width="4" height="7.1" fill="#f23645" stroke="#131722" stroke-width="0.8"/>
<line x1="60.62" x2="60.62" y1="127.3" y2="158.5" stroke="#131722" stroke-width="0.9"/>
<rect x="58.62" y="141.8" width="4" height="12.0" fill="#f23645" stroke="#131722" stroke-width="0.8"/>
<line x1="66.58" x2="66.58" y1="131.7" y2="155.5" stroke="#131722" stroke-width="0.9"/>
<rect x="64.58" y="136.6" width="4" height="12.8" fill="#22ab94" stroke="#131722" stroke-width="0.8"/>
<line x1="72.54" x2="72.54" y1="172.0" y2="194.9" stroke="#131722" stroke-width="0.9"/>
<rect x="70.54" y="172.4" width="4" height="13.8" fill="#f23645" stroke="#131722" stroke-width="0.8"/>
<line x1="78.50" x2="78.50" y1="179.3" y2="201.4" stroke="#131722" stroke-width="0.9"/>
<rect x="76.50" y="186.2" width="4" height="7.8" fill="#f23645" stroke="#131722" stroke-width="0.8"/>
<line x1="84.45" x2="84.45" y1="172.4" y2="194.9" stroke="#131722" stroke-width="0.9"/>
<rect x="82.45" y="173.4" width="4" height="20.2" fill="#22ab94" stroke="#131722" stroke-width="0.8"/>
<line x1="90.41" x2="90.41" y1="152.2" y2="182.5" stroke="#131722" stroke-width="0.9"/>
<rect x="88.41" y="155.5" width="4" height="18.6" fill="#22ab94" stroke="#131722" stroke-width="0.8"/>
<line x1="96.37" x2="96.37" y1="150.0" y2="171.7" stroke="#131722" stroke-width="0.9"/>
<rect x="94.37" y="156.1" width="4" height="15.0" fill="#f23645" stroke="#131722" stroke-width="0.8"/>
<line x1="102.33" x2="102.33" y1="138.2" y2="156.6" stroke="#131722" stroke-width="0.9"/>
<rect x="100.33" y="141.0" width="4" height="10.6" fill="#22ab94" stroke="#131722" stroke-width="0.8"/>
<line x1="108.29" x2="108.29" y1="128.4" y2="144.2" stroke="#131722" stroke-width="0.9"/>
<rect x="106.29" y="138.8" width="4" height="4.3" fill="#22ab94" stroke="#131722" stroke-width="0.8"/>
<line x1="114.24" x2="114.24" y1="131.7" y2="164.1" stroke="#131722" stroke-width="0.9"/>
<rect x="112.24" y="141.4" width="4" height="1.5" fill="#f23645" stroke="#131722" stroke-width="0.8"/>
<line x1="120.20" x2="120.20" y1="130.6" y2="154.4" stroke="#131722" stroke-width="0.9"/>
<rect x="118.20" y="138.2" width="4" height="6.0" fill="#22ab94" stroke="#131722" stroke-width="0.8"/>
<line x1="126.16" x2="126.16" y1="136.0" y2="163.0" stroke="#131722" stroke-width="0.9"/>
<rect x="124.16" y="137.3" width="4" height="20.8" fill="#f23645" stroke="#131722" stroke-width="0.8"/>
<line x1="132.12" x2="132.12" y1="155.5" y2="185.8" stroke="#131722" stroke-width="0.9"/>
<rect x="130.12" y="159.4" width="4" height="25.3" fill="#f23645" stroke="#131722" stroke-width="0.8"/>
<line x1="138.08" x2="138.08" y1="184.5" y2="188.0" stroke="#131722" stroke-width="0.9"/>
<rect x="136.08" y="184.7" width="4" height="2.2" fill="#f23645" stroke="#131722" stroke-width="0.8"/>
<line x1="144.03" x2="144.03" y1="173.9" y2="197.7" stroke="#131722" stroke-width="0.9"/>
<rect x="142.03" y="185.4" width="4" height="1.9" fill="#22ab94" stroke="#131722" stroke-width="0.8"/>
<line x1="149.99" x2="149.99" y1="167.4" y2="192.3" stroke="#131722" stroke-width="0.9"/>
<rect x="147.99" y="179.3" width="4" height="6.1" fill="#22ab94" stroke="#131722" stroke-width="0.8"/>
<line x1="155.95" x2="155.95" y1="177.1" y2="196.6" stroke="#131722" stroke-width="0.9"/>
<rect x="153.95" y="179.3" width="4" height="16.8" fill="#f23645" stroke="#131722" stroke-width="0.8"/>
<line x1="161.91" x2="161.91" y1="164.1" y2="197.7" stroke="#131722" stroke-width="0.9"/>
<rect x="159.91" y="168.9" width="4" height="23.4" fill="#22ab94" stroke="#131722" stroke-width="0.8"/>
<line x1="167.87" x2="167.87" y1="159.4" y2="174.5" stroke="#131722" stroke-width="0.9"/>
<rect x="165.87" y="168.0" width="4" height="1.0" fill="#22ab94" stroke="#131722" stroke-width="0.8"/>
<line x1="173.82" x2="173.82" y1="158.7" y2="172.8" stroke="#131722" stroke-width="0.9"/>
<rect x="171.82" y="168.9" width="4" height="2.4" fill="#f23645" stroke="#131722" stroke-width="0.8"/>
<line x1="179.78" x2="179.78" y1="152.2" y2="170.6" stroke="#131722" stroke-width="0.9"/>
<rect x="177.78" y="157.2" width="4" height="12.3" fill="#22ab94" stroke="#131722" stroke-width="0.8"/>
<line x1="185.74" x2="185.74" y1="142.9" y2="166.6" stroke="#131722" stroke-width="0.9"/>
<rect x="183.74" y="148.3" width="4" height="8.5" fill="#22ab94" stroke="#131722" stroke-width="0.8"/>
<line x1="191.70" x2="191.70" y1="143.6" y2="174.5" stroke="#131722" stroke-width="0.9"/>
<rect x="189.70" y="144.9" width="4" height="28.7" fill="#f23645" stroke="#131722" stroke-width="0.8"/>
<line x1="197.66" x2="197.66" y1="165.2" y2="184.2" stroke="#131722" stroke-width="0.9"/>
<rect x="195.66" y="175.4" width="4" height="2.7" fill="#22ab94" stroke="#131722" stroke-width="0.8"/>
<line x1="203.61" x2="203.61" y1="169.5" y2="183.6" stroke="#131722" stroke-width="0.9"/>
<rect x="201.61" y="176.1" width="4" height="1.0" fill="#f23645" stroke="#131722" stroke-width="0.8"/>
<line x1="209.57" x2="209.57" y1="167.4" y2="181.9" stroke="#131722" stroke-width="0.9"/>
<rect x="207.57" y="172.7" width="4" height="4.0" fill="#22ab94" stroke="#131722" stroke-width="0.8"/>
<line x1="215.53" x2="215.53" y1="163.6" y2="180.4" stroke="#131722" stroke-width="0.9"/>
<rect x="213.53" y="174.5" width="4" height="1.6" fill="#f23645" stroke="#131722" stroke-width="0.8"/>
<line x1="221.49" x2="221.49" y1="169.3" y2="186.2" stroke="#131722" stroke-width="0.9"/>
<rect x="219.49" y="182.7" width="4" height="1.0" fill="#f23645" stroke="#131722" stroke-width="0.8"/>
<line x1="227.45" x2="227.45" y1="156.8" y2="184.2" stroke="#131722" stroke-width="0.9"/>
<rect x="225.45" y="161.5" width="4" height="20.0" fill="#22ab94" stroke="#131722" stroke-width="0.8"/>
<line x1="233.40" x2="233.40" y1="153.0" y2="177.6" stroke="#131722" stroke-width="0.9"/>
<rect x="231.40" y="160.5" width="4" height="17.0" fill="#f23645" stroke="#131722" stroke-width="0.8"/>
<line x1="239.36" x2="239.36" y1="170.5" y2="184.0" stroke="#131722" stroke-width="0.9"/>
<rect x="237.36" y="175.0" width="4" height="6.5" fill="#f23645" stroke="#131722" stroke-width="0.8"/>
<line x1="245.32" x2="245.32" y1="178.2" y2="196.2" stroke="#131722" stroke-width="0.9"/>
<rect x="243.32" y="180.0" width="4" height="15.6" fill="#f23645" stroke="#131722" stroke-width="0.8"/>
<line x1="251.28" x2="251.28" y1="173.3" y2="194.0" stroke="#131722" stroke-width="0.9"/>
<rect x="249.28" y="187.6" width="4" height="6.0" fill="#22ab94" stroke="#131722" stroke-width="0.8"/>
<line x1="257.24" x2="257.24" y1="173.2" y2="184.5" stroke="#131722" stroke-width="0.9"/>
<rect x="255.24" y="181.9" width="4" height="1.1" fill="#22ab94" stroke="#131722" stroke-width="0.8"/>
<line x1="263.19" x2="263.19" y1="160.6" y2="180.0" stroke="#131722" stroke-width="0.9"/>
<rect x="261.19" y="163.4" width="4" height="16.3" fill="#22ab94" stroke="#131722" stroke-width="0.8"/>
<line x1="269.15" x2="269.15" y1="160.2" y2="173.6" stroke="#131722" stroke-width="0.9"/>
<rect x="267.15" y="161.7" width="4" height="5.0" fill="#f23645" stroke="#131722" stroke-width="0.8"/>
<line x1="275.11" x2="275.11" y1="150.2" y2="165.5" stroke="#131722" stroke-width="0.9"/>
<rect x="273.11" y="155.2" width="4" height="9.8" fill="#22ab94" stroke="#131722" stroke-width="0.8"/>
<line x1="281.07" x2="281.07" y1="152.0" y2="159.0" stroke="#131722" stroke-width="0.9"/>
<rect x="279.07" y="153.0" width="4" height="5.5" fill="#f23645" stroke="#131722" stroke-width="0.8"/>
<line x1="287.03" x2="287.03" y1="155.9" y2="176.2" stroke="#131722" stroke-width="0.9"/>
<rect x="285.03" y="159.5" width="4" height="8.7" fill="#f23645" stroke="#131722" stroke-width="0.8"/>
<line x1="292.98" x2="292.98" y1="156.7" y2="173.6" stroke="#131722" stroke-width="0.9"/>
<rect x="290.98" y="167.8" width="4" height="5.4" fill="#f23645" stroke="#131722" stroke-width="0.8"/>
<line x1="298.94" x2="298.94" y1="161.7" y2="176.9" stroke="#131722" stroke-width="0.9"/>
<rect x="296.94" y="172.5" width="4" height="2.2" fill="#f23645" stroke="#131722" stroke-width="0.8"/>
<line x1="304.90" x2="304.90" y1="168.9" y2="184.5" stroke="#131722" stroke-width="0.9"/>
<rect x="302.90" y="173.6" width="4" height="4.8" fill="#22ab94" stroke="#131722" stroke-width="0.8"/>
<line x1="310.86" x2="310.86" y1="167.2" y2="183.4" stroke="#131722" stroke-width="0.9"/>
<rect x="308.86" y="170.0" width="4" height="2.8" fill="#f23645" stroke="#131722" stroke-width="0.8"/>
<line x1="316.82" x2="316.82" y1="162.2" y2="172.5" stroke="#131722" stroke-width="0.9"/>
<rect x="314.82" y="165.9" width="4" height="6.0" fill="#22ab94" stroke="#131722" stroke-width="0.8"/>
<line x1="322.77" x2="322.77" y1="158.5" y2="171.5" stroke="#131722" stroke-width="0.9"/>
<rect x="320.77" y="162.2" width="4" height="8.6" fill="#f23645" stroke="#131722" stroke-width="0.8"/>
<line x1="328.73" x2="328.73" y1="156.3" y2="172.0" stroke="#131722" stroke-width="0.9"/>
<rect x="326.73" y="163.3" width="4" height="8.2" fill="#22ab94" stroke="#131722" stroke-width="0.8"/>
<line x1="334.69" x2="334.69" y1="149.2" y2="162.2" stroke="#131722" stroke-width="0.9"/>
<rect x="332.69" y="155.0" width="4" height="5.7" fill="#22ab94" stroke="#131722" stroke-width="0.8"/>
<line x1="340.65" x2="340.65" y1="143.8" y2="156.8" stroke="#131722" stroke-width="0.9"/>
<rect x="338.65" y="145.5" width="4" height="6.5" fill="#22ab94" stroke="#131722" stroke-width="0.8"/>
<line x1="346.61" x2="346.61" y1="123.9" y2="145.5" stroke="#131722" stroke-width="0.9"/>
<rect x="344.61" y="133.4" width="4" height="9.9" fill="#22ab94" stroke="#131722" stroke-width="0.8"/>
<line x1="352.56" x2="352.56" y1="121.0" y2="135.6" stroke="#131722" stroke-width="0.9"/>
<rect x="350.56" y="124.7" width="4" height="5.7" fill="#22ab94" stroke="#131722" stroke-width="0.8"/>
<line x1="358.52" x2="358.52" y1="112.4" y2="131.2" stroke="#131722" stroke-width="0.9"/>
<rect x="356.52" y="125.4" width="4" height="3.9" fill="#f23645" stroke="#131722" stroke-width="0.8"/>
<line x1="364.48" x2="364.48" y1="116.7" y2="131.0" stroke="#131722" stroke-width="0.9"/>
<rect x="362.48" y="118.2" width="4" height="11.5" fill="#22ab94" stroke="#131722" stroke-width="0.8"/>
<line x1="370.44" x2="370.44" y1="108.0" y2="131.0" stroke="#131722" stroke-width="0.9"/>
<rect x="368.44" y="114.5" width="4" height="16.0" fill="#f23645" stroke="#131722" stroke-width="0.8"/>
<line x1="376.40" x2="376.40" y1="117.1" y2="134.9" stroke="#131722" stroke-width="0.9"/>
<rect x="374.40" y="118.5" width="4" height="11.6" fill="#22ab94" stroke="#131722" stroke-width="0.8"/>
<line x1="382.35" x2="382.35" y1="76.0" y2="118.9" stroke="#131722" stroke-width="0.9"/>
<rect x="380.35" y="89.4" width="4" height="27.3" fill="#22ab94" stroke="#131722" stroke-width="0.8"/>
<line x1="388.31" x2="388.31" y1="64.7" y2="79.2" stroke="#131722" stroke-width="0.9"/>
<rect x="386.31" y="67.8" width="4" height="6.5" fill="#f23645" stroke="#131722" stroke-width="0.8"/>
<line x1="394.27" x2="394.27" y1="72.7" y2="87.2" stroke="#131722" stroke-width="0.9"/>
<rect x="392.27" y="75.6" width="4" height="7.3" fill="#f23645" stroke="#131722" stroke-width="0.8"/>
<line x1="400.23" x2="400.23" y1="55.4" y2="89.0" stroke="#131722" stroke-width="0.9"/>
<rect x="398.23" y="58.7" width="4" height="25.5" fill="#22ab94" stroke="#131722" stroke-width="0.8"/>
<line x1="406.19" x2="406.19" y1="57.6" y2="82.5" stroke="#131722" stroke-width="0.9"/>
<rect x="404.19" y="59.1" width="4" height="15.8" fill="#f23645" stroke="#131722" stroke-width="0.8"/>
<line x1="412.14" x2="412.14" y1="67.8" y2="81.0" stroke="#131722" stroke-width="0.9"/>
<rect x="410.14" y="71.2" width="4" height="9.1" fill="#f23645" stroke="#131722" stroke-width="0.8"/>
<line x1="418.10" x2="418.10" y1="74.3" y2="94.4" stroke="#131722" stroke-width="0.9"/>
<rect x="416.10" y="76.0" width="4" height="12.5" fill="#f23645" stroke="#131722" stroke-width="0.8"/>
<line x1="424.06" x2="424.06" y1="89.0" y2="104.1" stroke="#131722" stroke-width="0.9"/>
<rect x="422.06" y="91.1" width="4" height="4.8" fill="#f23645" stroke="#131722" stroke-width="0.8"/>
<line x1="430.02" x2="430.02" y1="92.2" y2="101.5" stroke="#131722" stroke-width="0.9"/>
<rect x="428.02" y="95.5" width="4" height="5.4" fill="#f23645" stroke="#131722" stroke-width="0.8"/>
<line x1="435.98" x2="435.98" y1="92.6" y2="114.0" stroke="#131722" stroke-width="0.9"/>
<rect x="433.98" y="101.8" width="4" height="11.6" fill="#f23645" stroke="#131722" stroke-width="0.8"/>
<line x1="441.93" x2="441.93" y1="103.4" y2="115.7" stroke="#131722" stroke-width="0.9"/>
<rect x="439.93" y="110.7" width="4" height="2.9" fill="#22ab94" stroke="#131722" stroke-width="0.8"/>
<line x1="447.89" x2="447.89" y1="103.8" y2="134.1" stroke="#131722" stroke-width="0.9"/>
<rect x="445.89" y="119.4" width="4" height="10.8" fill="#f23645" stroke="#131722" stroke-width="0.8"/>
<line x1="453.85" x2="453.85" y1="113.6" y2="129.4" stroke="#131722" stroke-width="0.9"/>
<rect x="451.85" y="124.4" width="4" height="2.8" fill="#22ab94" stroke="#131722" stroke-width="0.8"/>
<line x1="459.81" x2="459.81" y1="121.6" y2="136.7" stroke="#131722" stroke-width="0.9"/>
<rect x="457.81" y="122.2" width="4" height="10.2" fill="#f23645" stroke="#131722" stroke-width="0.8"/>
<line x1="465.77" x2="465.77" y1="122.2" y2="142.8" stroke="#131722" stroke-width="0.9"/>
<rect x="463.77" y="129.4" width="4" height="3.0" fill="#22ab94" stroke="#131722" stroke-width="0.8"/>
<line x1="471.72" x2="471.72" y1="124.4" y2="140.6" stroke="#131722" stroke-width="0.9"/>
<rect x="469.72" y="126.0" width="4" height="1.0" fill="#22ab94" stroke="#131722" stroke-width="0.8"/>
<line x1="477.68" x2="477.68" y1="115.2" y2="141.7" stroke="#131722" stroke-width="0.9"/>
<rect x="475.68" y="129.8" width="4" height="8.2" fill="#f23645" stroke="#131722" stroke-width="0.8"/>
<line x1="483.64" x2="483.64" y1="123.3" y2="153.6" stroke="#131722" stroke-width="0.9"/>
<rect x="481.64" y="131.1" width="4" height="7.4" fill="#22ab94" stroke="#131722" stroke-width="0.8"/>
<line x1="489.60" x2="489.60" y1="127.2" y2="149.8" stroke="#131722" stroke-width="0.9"/>
<rect x="487.60" y="129.8" width="4" height="19.5" fill="#f23645" stroke="#131722" stroke-width="0.8"/>
<line x1="495.56" x2="495.56" y1="139.0" y2="154.3" stroke="#131722" stroke-width="0.9"/>
<rect x="493.56" y="148.8" width="4" height="2.6" fill="#f23645" stroke="#131722" stroke-width="0.8"/>
<line x1="501.51" x2="501.51" y1="143.1" y2="153.5" stroke="#131722" stroke-width="0.9"/>
<rect x="499.51" y="149.1" width="4" height="3.9" fill="#22ab94" stroke="#131722" stroke-width="0.8"/>
<line x1="507.47" x2="507.47" y1="130.7" y2="143.5" stroke="#131722" stroke-width="0.9"/>
<rect x="505.47" y="132.2" width="4" height="10.9" fill="#22ab94" stroke="#131722" stroke-width="0.8"/>
<line x1="513.43" x2="513.43" y1="115.6" y2="132.2" stroke="#131722" stroke-width="0.9"/>
<rect x="511.43" y="121.4" width="4" height="10.4" fill="#22ab94" stroke="#131722" stroke-width="0.8"/>
<line x1="519.39" x2="519.39" y1="119.9" y2="145.6" stroke="#131722" stroke-width="0.9"/>
<rect x="517.39" y="121.4" width="4" height="23.8" fill="#f23645" stroke="#131722" stroke-width="0.8"/>
<line x1="525.35" x2="525.35" y1="140.5" y2="155.2" stroke="#131722" stroke-width="0.9"/>
<rect x="523.35" y="142.2" width="4" height="1.2" fill="#22ab94" stroke="#131722" stroke-width="0.8"/>
<line x1="531.30" x2="531.30" y1="134.4" y2="151.7" stroke="#131722" stroke-width="0.9"/>
<rect x="529.30" y="144.4" width="4" height="6.9" fill="#f23645" stroke="#131722" stroke-width="0.8"/>
<line x1="537.26" x2="537.26" y1="140.5" y2="152.0" stroke="#131722" stroke-width="0.9"/>
<rect x="535.26" y="140.9" width="4" height="10.8" fill="#22ab94" stroke="#131722" stroke-width="0.8"/>
<line x1="543.22" x2="543.22" y1="132.2" y2="144.8" stroke="#131722" stroke-width="0.9"/>
<rect x="541.22" y="137.2" width="4" height="3.7" fill="#22ab94" stroke="#131722" stroke-width="0.8"/>
<line x1="549.18" x2="549.18" y1="123.2" y2="135.0" stroke="#131722" stroke-width="0.9"/>
<rect x="547.18" y="133.1" width="4" height="1.5" fill="#22ab94" stroke="#131722" stroke-width="0.8"/>
<line x1="555.14" x2="555.14" y1="118.8" y2="135.7" stroke="#131722" stroke-width="0.9"/>
<rect x="553.14" y="127.5" width="4" height="4.7" fill="#22ab94" stroke="#131722" stroke-width="0.8"/>
<line x1="561.09" x2="561.09" y1="123.7" y2="158.0" stroke="#131722" stroke-width="0.9"/>
<rect x="559.09" y="124.9" width="4" height="32.6" fill="#f23645" stroke="#131722" stroke-width="0.8"/>
<line x1="567.05" x2="567.05" y1="146.4" y2="157.2" stroke="#131722" stroke-width="0.9"/>
<rect x="565.05" y="150.3" width="4" height="3.2" fill="#22ab94" stroke="#131722" stroke-width="0.8"/>
<line x1="573.01" x2="573.01" y1="144.9" y2="176.0" stroke="#131722" stroke-width="0.9"/>
<rect x="571.01" y="150.7" width="4" height="23.8" fill="#f23645" stroke="#131722" stroke-width="0.8"/>
<line x1="578.97" x2="578.97" y1="170.2" y2="180.0" stroke="#131722" stroke-width="0.9"/>
<rect x="576.97" y="173.0" width="4" height="4.8" fill="#f23645" stroke="#131722" stroke-width="0.8"/>
<line x1="584.93" x2="584.93" y1="157.9" y2="178.5" stroke="#131722" stroke-width="0.9"/>
<rect x="582.93" y="165.2" width="4" height="12.6" fill="#22ab94" stroke="#131722" stroke-width="0.8"/>
<line x1="590.88" x2="590.88" y1="163.0" y2="176.7" stroke="#131722" stroke-width="0.9"/>
<rect x="588.88" y="163.7" width="4" height="5.0" fill="#f23645" stroke="#131722" stroke-width="0.8"/>
<line x1="596.84" x2="596.84" y1="160.5" y2="190.5" stroke="#131722" stroke-width="0.9"/>
<rect x="594.84" y="163.1" width="4" height="26.6" fill="#f23645" stroke="#131722" stroke-width="0.8"/>
<line x1="602.80" x2="602.80" y1="189.5" y2="209.2" stroke="#131722" stroke-width="0.9"/>
<rect x="600.80" y="190.4" width="4" height="3.0" fill="#f23645" stroke="#131722" stroke-width="0.8"/>
<line x1="608.76" x2="608.76" y1="191.9" y2="227.6" stroke="#131722" stroke-width="0.9"/>
<rect x="606.76" y="195.1" width="4" height="21.2" fill="#f23645" stroke="#131722" stroke-width="0.8"/>
<line x1="614.72" x2="614.72" y1="209.2" y2="223.3" stroke="#131722" stroke-width="0.9"/>
<rect x="612.72" y="215.0" width="4" height="3.5" fill="#f23645" stroke="#131722" stroke-width="0.8"/>
<line x1="620.67" x2="620.67" y1="190.9" y2="216.8" stroke="#131722" stroke-width="0.9"/>
<rect x="618.67" y="206.3" width="4" height="10.1" fill="#22ab94" stroke="#131722" stroke-width="0.8"/>
<line x1="626.63" x2="626.63" y1="196.9" y2="220.6" stroke="#131722" stroke-width="0.9"/>
<rect x="624.63" y="206.6" width="4" height="13.4" fill="#f23645" stroke="#131722" stroke-width="0.8"/>
<line x1="632.59" x2="632.59" y1="205.5" y2="225.7" stroke="#131722" stroke-width="0.9"/>
<rect x="630.59" y="212.0" width="4" height="11.5" fill="#22ab94" stroke="#131722" stroke-width="0.8"/>
<line x1="638.55" x2="638.55" y1="194.7" y2="215.3" stroke="#131722" stroke-width="0.9"/>
<rect x="636.55" y="195.8" width="4" height="13.4" fill="#22ab94" stroke="#131722" stroke-width="0.8"/>
<line x1="644.51" x2="644.51" y1="193.6" y2="212.0" stroke="#131722" stroke-width="0.9"/>
<rect x="642.51" y="198.0" width="4" height="11.2" fill="#f23645" stroke="#131722" stroke-width="0.8"/>
<line x1="650.46" x2="650.46" y1="201.2" y2="211.0" stroke="#131722" stroke-width="0.9"/>
<rect x="648.46" y="204.0" width="4" height="3.7" fill="#22ab94" stroke="#131722" stroke-width="0.8"/>
<line x1="656.42" x2="656.42" y1="187.6" y2="200.1" stroke="#131722" stroke-width="0.9"/>
<rect x="654.42" y="193.6" width="4" height="4.4" fill="#f23645" stroke="#131722" stroke-width="0.8"/>
<line x1="662.38" x2="662.38" y1="182.4" y2="206.5" stroke="#131722" stroke-width="0.9"/>
<rect x="660.38" y="198.0" width="4" height="8.2" fill="#f23645" stroke="#131722" stroke-width="0.8"/>
<line x1="668.34" x2="668.34" y1="194.7" y2="209.2" stroke="#131722" stroke-width="0.9"/>
<rect x="666.34" y="200.1" width="4" height="3.3" fill="#22ab94" stroke="#131722" stroke-width="0.8"/>
<line x1="674.30" x2="674.30" y1="182.8" y2="202.3" stroke="#131722" stroke-width="0.9"/>
<rect x="672.30" y="183.9" width="4" height="13.6" fill="#22ab94" stroke="#131722" stroke-width="0.8"/>
<line x1="680.25" x2="680.25" y1="176.7" y2="191.5" stroke="#131722" stroke-width="0.9"/>
<rect x="678.25" y="181.4" width="4" height="3.1" fill="#f23645" stroke="#131722" stroke-width="0.8"/>
<line x1="686.21" x2="686.21" y1="173.3" y2="188.5" stroke="#131722" stroke-width="0.9"/>
<rect x="684.21" y="175.0" width="4" height="10.9" fill="#22ab94" stroke="#131722" stroke-width="0.8"/>
<line x1="692.17" x2="692.17" y1="167.2" y2="180.2" stroke="#131722" stroke-width="0.9"/>
<rect x="690.17" y="172.4" width="4" height="1.0" fill="#22ab94" stroke="#131722" stroke-width="0.8"/>
<line x1="698.13" x2="698.13" y1="161.4" y2="172.5" stroke="#131722" stroke-width="0.9"/>
<rect x="696.13" y="164.2" width="4" height="7.4" fill="#22ab94" stroke="#131722" stroke-width="0.8"/>
<line x1="704.09" x2="704.09" y1="162.5" y2="169.0" stroke="#131722" stroke-width="0.9"/>
<rect x="702.09" y="164.8" width="4" height="1.0" fill="#22ab94" stroke="#131722" stroke-width="0.8"/>
<line x1="710.04" x2="710.04" y1="163.5" y2="178.0" stroke="#131722" stroke-width="0.9"/>
<rect x="708.04" y="164.2" width="4" height="13.0" fill="#f23645" stroke="#131722" stroke-width="0.8"/>
<line x1="716.00" x2="716.00" y1="143.4" y2="176.6" stroke="#131722" stroke-width="0.9"/>
<rect x="714.00" y="148.8" width="4" height="20.8" fill="#22ab94" stroke="#131722" stroke-width="0.8"/>
<line x1="721.96" x2="721.96" y1="139.6" y2="152.0" stroke="#131722" stroke-width="0.9"/>
<rect x="719.96" y="147.6" width="4" height="4.1" fill="#f23645" stroke="#131722" stroke-width="0.8"/>
<line x1="727.92" x2="727.92" y1="139.6" y2="163.0" stroke="#131722" stroke-width="0.9"/>
<rect x="725.92" y="150.2" width="4" height="12.4" fill="#f23645" stroke="#131722" stroke-width="0.8"/>
<line x1="733.88" x2="733.88" y1="166.0" y2="213.2" stroke="#131722" stroke-width="0.9"/>
<rect x="731.88" y="174.0" width="4" height="37.4" fill="#f23645" stroke="#131722" stroke-width="0.8"/>
<line x1="739.83" x2="739.83" y1="209.0" y2="284.2" stroke="#131722" stroke-width="0.9"/>
<rect x="737.83" y="209.8" width="4" height="51.4" fill="#f23645" stroke="#131722" stroke-width="0.8"/>
<line x1="745.79" x2="745.79" y1="242.7" y2="303.4" stroke="#131722" stroke-width="0.9"/>
<rect x="743.79" y="281.6" width="4" height="10.9" fill="#22ab94" stroke="#131722" stroke-width="0.8"/>
<line x1="751.75" x2="751.75" y1="270.0" y2="318.6" stroke="#131722" stroke-width="0.9"/>
<rect x="749.75" y="277.6" width="4" height="39.5" fill="#f23645" stroke="#131722" stroke-width="0.8"/>
<line x1="757.71" x2="757.71" y1="260.7" y2="356.5" stroke="#131722" stroke-width="0.9"/>
<rect x="755.71" y="265.6" width="4" height="54.1" fill="#22ab94" stroke="#131722" stroke-width="0.8"/>
<line x1="763.67" x2="763.67" y1="260.2" y2="311.0" stroke="#131722" stroke-width="0.9"/>
<rect x="761.67" y="262.4" width="4" height="32.9" fill="#f23645" stroke="#131722" stroke-width="0.8"/>
<line x1="769.62" x2="769.62" y1="274.3" y2="302.0" stroke="#131722" stroke-width="0.9"/>
<rect x="767.62" y="280.9" width="4" height="18.0" fill="#22ab94" stroke="#131722" stroke-width="0.8"/>
<line x1="775.58" x2="775.58" y1="265.3" y2="284.8" stroke="#131722" stroke-width="0.9"/>
<rect x="773.58" y="277.5" width="4" height="2.9" fill="#22ab94" stroke="#131722" stroke-width="0.8"/>
<line x1="781.54" x2="781.54" y1="273.0" y2="318.0" stroke="#131722" stroke-width="0.9"/>
<rect x="779.54" y="275.4" width="4" height="29.6" fill="#f23645" stroke="#131722" stroke-width="0.8"/>
<line x1="787.50" x2="787.50" y1="264.7" y2="292.0" stroke="#131722" stroke-width="0.9"/>
<rect x="785.50" y="267.2" width="4" height="13.0" fill="#22ab94" stroke="#131722" stroke-width="0.8"/>
<line x1="793.46" x2="793.46" y1="238.2" y2="266.0" stroke="#131722" stroke-width="0.9"/>
<rect x="791.46" y="245.9" width="4" height="15.7" fill="#22ab94" stroke="#131722" stroke-width="0.8"/>
<polyline points="7.0,86.2 155.6,196.1 187.5,149.5 245.0,195.7 400.3,56.0 626.2,219.7 716.0,148.0 751.4,318.4 793.4,245.0" fill="none" stroke="#2e9e85" stroke-width="1.55" stroke-linejoin="round"/>
<polyline points="793.4,244.3 799.1,233.9 811,249.8 817,242.8 835.1,263.7" fill="none" stroke="#2962ff" stroke-width="1.5" stroke-linejoin="miter"/>
<polyline points="825.5,263.2 835.1,263.7 836.1,254.8" fill="none" stroke="#2962ff" stroke-width="1.5"/>
</g>
<rect x="6.5" y="17.5" width="1011" height="512.5" fill="none" stroke="#ebebeb" stroke-width="1"/>
<line x1="7" x2="1017" y1="387.5" y2="387.5" stroke="#e0e3eb" stroke-width="1"/>
<line x1="7" x2="1017" y1="414.5" y2="414.5" stroke="#e0e3eb" stroke-width="1"/>
<line x1="7" x2="981" y1="404.5" y2="404.5" stroke="rgba(42,46,57,0.065)" stroke-width="1"/>
<line x1="96.4" x2="96.4" y1="388" y2="508" stroke="rgba(42,46,57,0.065)" stroke-width="1"/>
<line x1="221.5" x2="221.5" y1="388" y2="508" stroke="rgba(42,46,57,0.065)" stroke-width="1"/>
<line x1="346.7" x2="346.7" y1="388" y2="508" stroke="rgba(42,46,57,0.065)" stroke-width="1"/>
<line x1="477.7" x2="477.7" y1="388" y2="508" stroke="rgba(42,46,57,0.065)" stroke-width="1"/>
<line x1="596.6" x2="596.6" y1="388" y2="508" stroke="rgba(42,46,57,0.065)" stroke-width="1"/>
<line x1="721.6" x2="721.6" y1="388" y2="508" stroke="rgba(42,46,57,0.065)" stroke-width="1"/>
<line x1="852" x2="852" y1="388" y2="508" stroke="rgba(42,46,57,0.065)" stroke-width="1"/>
<rect x="939.1" y="25.1" width="35.1" height="12.0" fill="rgb(63,81,181)" fill-opacity="0.5"/>
<text x="956.7" y="33.4" font-size="6.4" fill="#5865c5" text-anchor="middle">Level0</text>
<rect x="939.1" y="38.4" width="35.1" height="16.4" fill="rgb(0,150,80)" fill-opacity="0.09"/>
<text x="956.7" y="50.0" font-size="9.5" fill="#2b9e6e" text-anchor="middle" stroke="#2b9e6e" stroke-width="0.25">Level1</text>
<rect x="939.1" y="56" width="35.1" height="12.7" fill="rgb(255,30,30)" fill-opacity="0.5"/>
<text x="956.7" y="64.7" font-size="6.4" fill="#e8323c" text-anchor="middle">Level2</text>
<rect x="939.1" y="70" width="35.1" height="12.0" fill="rgb(168,35,56)" fill-opacity="0.5"/>
<text x="956.7" y="78.3" font-size="6.4" fill="#b2404f" text-anchor="middle">Level3</text>
<text transform="translate(12.00,30.80) scale(0.81,1)" font-size="9.8" fill="#131722" stroke="#131722" stroke-width="0.15">Brent Crude Oil · 1Д · BLACKBULL</text>
<text transform="translate(139.20,30.80) scale(0.81,1)" font-size="9.8" fill="#131722" stroke="#131722" stroke-width="0.15">ОТКР65,595</text>
<text transform="translate(187.50,30.80) scale(0.81,1)" font-size="9.8" fill="#131722" stroke="#131722" stroke-width="0.15">МАКС67,395</text>
<text transform="translate(236.90,30.80) scale(0.81,1)" font-size="9.8" fill="#131722" stroke="#131722" stroke-width="0.15">МИН65,235</text>
<text transform="translate(282.50,30.80) scale(0.81,1)" font-size="9.8" fill="#131722" stroke="#131722" stroke-width="0.15">ЗАКР66,825</text>
<text transform="translate(330.00,30.80) scale(0.81,1)" font-size="9.8" fill="#131722" stroke="#131722" stroke-width="0.15">+1,610 (+2,47%)</text>
<text transform="translate(12.00,42.00) scale(0.81,1)" font-size="9.8" fill="#131722" stroke="#131722" stroke-width="0.15">Объём · Тики</text>
<text transform="translate(68.00,42.00) scale(0.81,1)" font-size="9.8" fill="#22ab94" stroke="#22ab94" stroke-width="0.15">29,29 K</text>
<text transform="translate(12.00,53.20) scale(0.81,1)" font-size="9.8" fill="#131722" stroke="#131722" stroke-width="0.15">Strange MA (Hull Moving Average, 30, 50, SMA, 100, SMA, 200, SMA, Neutral)</text>
<text transform="translate(293.40,53.20) scale(0.81,1)" font-size="9.8" fill="#f77c80" stroke="#f77c80" stroke-width="0.15">63,325</text>
<text transform="translate(322.30,53.20) scale(0.81,1)" font-size="9.8" fill="#00e676" stroke="#00e676" stroke-width="0.15">70,837</text>
<text transform="translate(351.20,53.20) scale(0.81,1)" font-size="9.8" fill="#ffeb3b" stroke="#ffeb3b" stroke-width="0.15">72,946</text>
<text transform="translate(380.10,53.20) scale(0.81,1)" font-size="9.8" fill="#f77c80" stroke="#f77c80" stroke-width="0.15">74,461</text>
<text transform="translate(409.00,53.20) scale(0.81,1)" font-size="9.8" fill="#00e676" stroke="#00e676" stroke-width="0.15">70,685</text>
<text transform="translate(437.90,53.20) scale(0.81,1)" font-size="9.8" fill="#00e676" stroke="#00e676" stroke-width="0.15">70,507</text>
<text transform="translate(466.80,53.20) scale(0.81,1)" font-size="9.8" fill="#00e676" stroke="#00e676" stroke-width="0.15">70,312</text>
<text transform="translate(495.70,53.20) scale(0.81,1)" font-size="9.8" fill="#00e676" stroke="#00e676" stroke-width="0.15">70,155</text>
<text transform="translate(524.60,53.20) scale(0.81,1)" font-size="9.8" fill="#00e676" stroke="#00e676" stroke-width="0.15">69,994</text>
<text transform="translate(553.50,53.20) scale(0.81,1)" font-size="9.8" fill="#00e676" stroke="#00e676" stroke-width="0.15">69,846</text>
<text transform="translate(582.40,53.20) scale(0.81,1)" font-size="9.8" fill="#00e676" stroke="#00e676" stroke-width="0.15">69,681</text>
<text transform="translate(611.30,53.20) scale(0.81,1)" font-size="9.8" fill="#00e676" stroke="#00e676" stroke-width="0.15">69,510</text>
<text transform="translate(640.20,53.20) scale(0.81,1)" font-size="9.8" fill="#00e676" stroke="#00e676" stroke-width="0.15">69,333</text>
<text transform="translate(669.10,53.20) scale(0.81,1)" font-size="9.8" fill="#00e676" stroke="#00e676" stroke-width="0.15">69,148</text>
<text transform="translate(698.00,53.20) scale(0.81,1)" font-size="9.8" fill="#ffeb3b" stroke="#ffeb3b" stroke-width="0.15">72,892</text>
<text transform="translate(726.90,53.20) scale(0.81,1)" font-size="9.8" fill="#ffeb3b" stroke="#ffeb3b" stroke-width="0.15">72,834</text>
<text transform="translate(755.80,53.20) scale(0.81,1)" font-size="9.8" fill="#ffeb3b" stroke="#ffeb3b" stroke-width="0.15">72,780</text>
<text transform="translate(784.70,53.20) scale(0.81,1)" font-size="9.8" fill="#ffeb3b" stroke="#ffeb3b" stroke-width="0.15">72,731</text>
<text transform="translate(813.60,53.20) scale(0.81,1)" font-size="9.8" fill="#ffeb3b" stroke="#ffeb3b" stroke-width="0.15">72,665</text>
<text transform="translate(842.50,53.20) scale(0.81,1)" font-size="9.8" fill="#ffeb3b" stroke="#ffeb3b" stroke-width="0.15">72,611</text>
<text transform="translate(871.40,53.20) scale(0.81,1)" font-size="9.8" fill="#ffeb3b" stroke="#ffeb3b" stroke-width="0.15">72,561</text>
<text transform="translate(900.30,53.20) scale(0.81,1)" font-size="9.8" fill="#ffeb3b" stroke="#ffeb3b" stroke-width="0.15">72,521</text>
<text transform="translate(929.20,53.20) scale(0.81,1)" font-size="9.8" fill="#ffeb3b" stroke="#ffeb3b" stroke-width="0.15">72,475</text>
<text transform="translate(951.30,53.60) scale(1,1)" font-size="10" fill="#131722" stroke="#131722" stroke-width="0.3">...</text>
<g clip-path="url(#cd)">
<line x1="7" x2="981" y1="508.0" y2="508.0" stroke="rgba(42,46,57,0.065)" stroke-width="1"/>
<line x1="7" x2="981" y1="477.7" y2="477.7" stroke="rgba(42,46,57,0.065)" stroke-width="1"/>
<line x1="7" x2="981" y1="447.4" y2="447.4" stroke="rgba(42,46,57,0.065)" stroke-width="1"/>
<line x1="7" x2="981" y1="417.1" y2="417.1" stroke="rgba(42,46,57,0.065)" stroke-width="1"/>
<polyline points="7.1,453.7 399.8,424.2" fill="none" stroke="#b07cc6" stroke-opacity="0.7" stroke-width="0.9" stroke-dasharray="1.2,1.6"/>
<polyline points="7.1,476 399.8,424.2" fill="none" stroke="#ffb74d" stroke-opacity="0.7" stroke-width="0.9" stroke-dasharray="1.2,1.6"/>
<polyline points="399.8,424.2 751.7,502.6" fill="none" stroke="#c07070" stroke-opacity="0.7" stroke-width="0.9" stroke-dasharray="1.2,1.6"/>
<polyline points="7.1,451.6 36.8,472.7 66.5,460 78.7,477.7 119.3,458 155.4,477 185.4,456.7 220.9,470.6 227.3,460 245,475.2 399.8,424.2 496.1,477.5 554.6,459 613.5,494.5 715.4,446.3 751.7,502.6 790.6,469" fill="none" stroke="#f06292" stroke-opacity="0.6" stroke-width="0.8" stroke-dasharray="1,1.6"/>
<polyline points="7.1,450.1 12.7,463.8 19.0,466.4 25.4,467.4 31.0,467.9 36.8,472.5 42.7,468.9 48.2,461.8 53.8,463.3 59.7,465.9 66.0,459.8 72.4,472.2 78.7,477.5 85.1,469.7 90.1,463.8 96.5,468.4 102.1,458.2 107.9,457.7 113.8,459.5 119.9,457.7 125.7,465.9 132.0,473.5 138.4,474.5 144.7,473.5 150.3,470.9 155.4,477.3 161.8,465.4 167.6,465.1 173.4,465.9 179.5,460.8 185.4,456.5 192.2,467.1 198.1,467.4 203.9,468.4 209.8,465.9 215.8,467.9 221.4,470.9 227.3,459.8 233.1,467.1 239.2,468.9 245.0,474.8 251.4,469.9 256.8,467.4 262.3,458.7 267.8,459.8 274.6,453.8 280.1,455.1 285.5,459.8 291.0,463.3 297.9,465.2 304.7,464.1 310.2,464.1 315.6,459.2 322.5,462.5 329.3,456.5 336.1,449.7 345.7,439.5 352.5,436.5 358.0,440.6 364.3,436.0 369.8,445.5 375.8,439.5 381.3,430.5 388.1,425.0 394.4,431.1 399.8,425.0 405.9,435.2 412.7,440.6 418.2,445.0 423.6,449.1 429.1,452.4 435.9,459.8 441.4,457.9 447.4,468.2 453.7,465.5 460.0,469.3 466.0,467.4 471.5,465.8 477.0,472.3 483.0,467.4 489.3,476.2 496.1,477.5 501.0,475.6 507.0,464.7 513.0,458.7 519.3,470.7 524.2,468.9 530.8,473.7 537.0,467.5 543.2,465.2 549.2,463.0 554.6,459.6 561.1,475.7 566.7,471.2 573.2,480.8 579.5,481.7 584.6,474.6 590.2,475.7 595.9,484.2 602.1,486.5 608.4,493.3 614.3,494.1 620.5,485.9 626.8,490.1 632.4,484.2 638.4,475.1 644.6,479.4 650.8,475.7 656.5,473.2 662.5,476.6 668.7,472.3 674.3,463.2 680.0,463.8 685.7,459.6 691.3,457.6 697.9,452.5 703.5,453.0 709.7,461.0 715.4,446.3 721.6,447.7 728.2,455.3 733.8,476.6 739.5,492.1 745.7,496.4 751.7,502.0 757.3,480.8 763.6,486.5 769.2,482.2 774.9,480.8 781.1,485.9 787.6,472.3 792.4,467.2" fill="none" stroke="#5b8def" stroke-width="1"/>
<polyline points="7.1,446.3 78.7,478.1 185.4,456.2 245.0,475.0 399.8,424.2 614.0,494.1 715.4,446.0 751.7,502.6" fill="none" stroke="#4b8a26" stroke-width="1.8" stroke-linejoin="round"/>
</g>
<text transform="translate(12.20,428.00) scale(0.81,1)" font-size="9.8" fill="#131722" stroke="#131722" stroke-width="0.15">DZ [Trendoscope®] (rsi, 14)</text>
<rect x="938.9" y="420.8" width="35.5" height="13.1" fill="#f0a3c4" fill-opacity="1"/>
<text x="956.6" y="429.7" font-size="6.4" fill="#e0609a" text-anchor="middle">Level0</text>
<rect x="938.9" y="434.7" width="35.5" height="17.5" fill="#eef5ea" fill-opacity="1"/>
<text x="956.6" y="446.9" font-size="9.5" fill="#3d8a24" text-anchor="middle" stroke="#3d8a24" stroke-width="0.25">Level1</text>
<rect x="938.9" y="452.8" width="35.5" height="12.5" fill="#fdd09c" fill-opacity="1"/>
<text x="956.6" y="461.4" font-size="6.4" fill="#f0a040" text-anchor="middle">Level2</text>
<rect x="938.9" y="466.1" width="35.5" height="12.5" fill="#c79cc4" fill-opacity="1"/>
<text x="956.6" y="474.7" font-size="6.4" fill="#8a4a8a" text-anchor="middle">Level3</text>
<rect x="938.9" y="479.7" width="35.5" height="12.0" fill="#b3cdd8" fill-opacity="1"/>
<text x="956.6" y="488.0" font-size="6.4" fill="#6f9bb5" text-anchor="middle">Level4</text>
<g clip-path="url(#ca1)">
<text transform="translate(1010.80,387.20) scale(0.81,1)" font-size="9.8" fill="#131722" stroke="#131722" stroke-width="0.15" text-anchor="end">56,000</text>
<text transform="translate(1010.80,336.71) scale(0.81,1)" font-size="9.8" fill="#131722" stroke="#131722" stroke-width="0.15" text-anchor="end">60,000</text>
<text transform="translate(1010.80,285.41) scale(0.81,1)" font-size="9.8" fill="#131722" stroke="#131722" stroke-width="0.15" text-anchor="end">64,000</text>
<text transform="translate(1010.80,259.77) scale(0.81,1)" font-size="9.8" fill="#131722" stroke="#131722" stroke-width="0.15" text-anchor="end">66,000</text>
<text transform="translate(1010.80,234.12) scale(0.81,1)" font-size="9.8" fill="#131722" stroke="#131722" stroke-width="0.15" text-anchor="end">68,000</text>
<text transform="translate(1010.80,208.48) scale(0.81,1)" font-size="9.8" fill="#131722" stroke="#131722" stroke-width="0.15" text-anchor="end">70,000</text>
<text transform="translate(1010.80,182.83) scale(0.81,1)" font-size="9.8" fill="#131722" stroke="#131722" stroke-width="0.15" text-anchor="end">72,000</text>
<text transform="translate(1010.80,157.18) scale(0.81,1)" font-size="9.8" fill="#131722" stroke="#131722" stroke-width="0.15" text-anchor="end">74,000</text>
<text transform="translate(1010.80,105.89) scale(0.81,1)" font-size="9.8" fill="#131722" stroke="#131722" stroke-width="0.15" text-anchor="end">78,000</text>
<text transform="translate(1010.80,80.25) scale(0.81,1)" font-size="9.8" fill="#131722" stroke="#131722" stroke-width="0.15" text-anchor="end">80,000</text>
<text transform="translate(1010.80,54.60) scale(0.81,1)" font-size="9.8" fill="#131722" stroke="#131722" stroke-width="0.15" text-anchor="end">82,000</text>
<rect x="982" y="110.1" width="32.7" height="10.7" rx="1.5" fill="#f23645"/>
<text transform="translate(1010.60,118.40) scale(0.81,1)" font-size="9.8" fill="#fff" stroke="#fff" stroke-width="0.3" text-anchor="end">77,055</text>
<rect x="982" y="124.2" width="32.7" height="10.7" rx="1.5" fill="#f23645"/>
<text transform="translate(1010.60,132.50) scale(0.81,1)" font-size="9.8" fill="#fff" stroke="#fff" stroke-width="0.3" text-anchor="end">75,951</text>
<rect x="982" y="240.2" width="32.7" height="10.7" rx="1.5" fill="#22ab94"/>
<text transform="translate(1010.60,248.50) scale(0.81,1)" font-size="9.8" fill="#fff" stroke="#fff" stroke-width="0.3" text-anchor="end">66,825</text>
<rect x="982" y="303.9" width="32.7" height="10.7" rx="1.5" fill="#4caf50"/>
<text transform="translate(1010.60,312.30) scale(0.81,1)" font-size="9.8" fill="#fff" stroke="#fff" stroke-width="0.3" text-anchor="end">61,881</text>
<rect x="982" y="350.6" width="32.7" height="10.7" rx="1.5" fill="#4caf50"/>
<text transform="translate(1010.60,359.00) scale(0.81,1)" font-size="9.8" fill="#fff" stroke="#fff" stroke-width="0.3" text-anchor="end">58,175</text>
</g>
<text transform="translate(1010.80,405.80) scale(0.81,1)" font-size="9.8" fill="#131722" stroke="#131722" stroke-width="0.15" text-anchor="end">0,000</text>
<g clip-path="url(#ca3)">
<text transform="translate(1010.80,420.10) scale(0.81,1)" font-size="9.8" fill="#131722" stroke="#131722" stroke-width="0.15" text-anchor="end">80,000</text>
<text transform="translate(1010.80,450.40) scale(0.81,1)" font-size="9.8" fill="#131722" stroke="#131722" stroke-width="0.15" text-anchor="end">60,000</text>
<text transform="translate(1010.80,480.70) scale(0.81,1)" font-size="9.8" fill="#131722" stroke="#131722" stroke-width="0.15" text-anchor="end">40,000</text>
<text transform="translate(1010.80,511.00) scale(0.81,1)" font-size="9.8" fill="#131722" stroke="#131722" stroke-width="0.15" text-anchor="end">20,000</text>
</g>
<rect x="983.7" y="20.7" width="30.3" height="17.7" rx="3" fill="#fff" stroke="#e0e3eb" stroke-width="0.8"/>
<text transform="translate(998.80,32.40) scale(0.82,1)" font-size="8.6" fill="#131722" stroke="#131722" stroke-width="0.15" text-anchor="middle">USD</text>
<text transform="translate(96.40,524.00) scale(0.81,1)" font-size="9.8" fill="#131722" stroke="#131722" stroke-width="0.15" text-anchor="middle">Ноя</text>
<text transform="translate(221.50,524.00) scale(0.81,1)" font-size="9.8" fill="#131722" stroke="#131722" stroke-width="0.15" text-anchor="middle">Дек</text>
<text transform="translate(346.90,524.00) scale(0.81,1)" font-size="9.8" fill="#131722" text-anchor="middle" font-weight="bold">2025</text>
<text transform="translate(477.70,524.00) scale(0.81,1)" font-size="9.8" fill="#131722" stroke="#131722" stroke-width="0.15" text-anchor="middle">Фев</text>
<text transform="translate(596.60,524.00) scale(0.81,1)" font-size="9.8" fill="#131722" stroke="#131722" stroke-width="0.15" text-anchor="middle">Мар</text>
<text transform="translate(721.60,524.00) scale(0.81,1)" font-size="9.8" fill="#131722" stroke="#131722" stroke-width="0.15" text-anchor="middle">Апр</text>
<text transform="translate(852.00,524.00) scale(0.81,1)" font-size="9.8" fill="#131722" stroke="#131722" stroke-width="0.15" text-anchor="middle">Май</text>
<path d="M6.6,538.7 h6.2 v6.3 h-2.6 v-3.6 h-3.6 z" fill="#131722"/>
<circle cx="14.6" cy="540.1" r="1.4" fill="#131722"/>
<path d="M16.8,538.7 h2.8 l-2.6,6.3 h-2.8 z" fill="#131722"/>
<text transform="translate(22.50,544.70) scale(1.0,1)" font-size="8.4" fill="#131722" stroke="#131722" stroke-width="0.1">TradingView</text>
</svg></body></html>
